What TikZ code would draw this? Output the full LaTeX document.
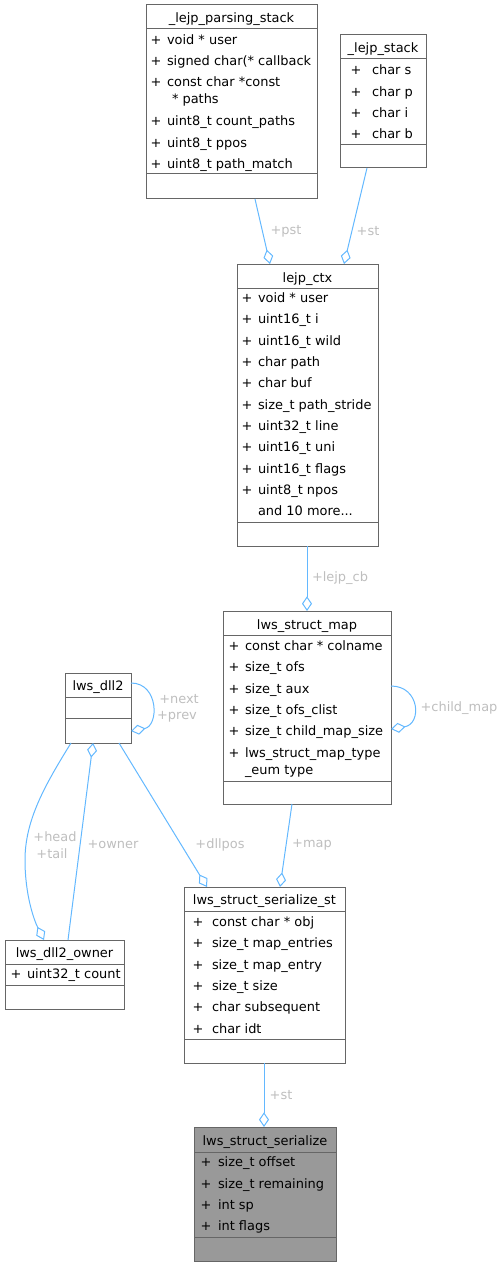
\documentclass[tikz,border=0pt]{standalone}
\usepackage{fontspec}
\setmainfont{DejaVu Sans}
\usetikzlibrary{fit,calc,arrows.meta}
\definecolor{boxc}{HTML}{666666}
\definecolor{edgec}{HTML}{63B8FF}
\definecolor{labc}{HTML}{BEBEBE}
\definecolor{mainfill}{HTML}{999999}
\tikzset{
  boxsty/.style={draw=boxc, line width=0.75pt, inner sep=0pt, outer sep=0pt, minimum size=0pt, rectangle},
  sepline/.style={draw=boxc, line width=0.75pt},
  txt/.style={inner sep=0pt, outer sep=0pt, text=black},
  lab/.style={inner sep=0pt, outer sep=0pt, text=labc},
  edge/.style={draw=edgec, line width=0.75pt, -{Diamond[open, length=11pt, width=7.5pt]}},
}
% #1 fill, #2 name, #3 left, #4 top, #5 right, #6 bottom, #7 title sep, #8 attr sep
\newcommand\ubox[8][white]{%
  \node[boxsty, fill=#1, fit={(#3,#4) (#5,#6)}] (#2) {};
  \draw[sepline] (#3,#7) -- (#5,#7);
  \draw[sepline] (#3,#8) -- (#5,#8);
}
% #1 name, #2 plus x, #3 text x, #4 baseline, #5 text
\newcommand\urow[5]{%
  \node[txt, anchor=base] (#1p) at (#2,#4) {+};
  \node[txt, anchor=base west] (#1) at (#3,#4) {#5};
}
\begin{document}
\begin{tikzpicture}[x=0.75pt, y=-0.75pt, font=\fontsize{9.7pt}{11.6pt}\selectfont]
\useasboundingbox (0,0) rectangle (503,1266);

% _lejp_parsing_stack
\ubox{lps}{146}{5}{317}{199}{29}{174}
\node[txt, anchor=base] (lpst) at (231.5,22.5) {\_lejp\_parsing\_stack};
\urow{lpsa}{156}{167}{44.5}{void * user}
\urow{lpsb}{156}{167}{66}{signed char(* callback}
\urow{lpsc}{156}{167}{87}{const char *const}
\node[txt, anchor=base west] (lpsc2) at (172,103.8) {* paths};
\urow{lpsd}{156}{167}{126}{uint8\_t count\_paths}
\urow{lpse}{156}{167}{147.3}{uint8\_t ppos}
\urow{lpsf}{156}{167}{168.6}{uint8\_t path\_match}

% _lejp_stack
\ubox{lst}{340}{35}{426}{168}{59}{145}
\node[txt, anchor=base] (lstt) at (383,53) {\_lejp\_stack};
\urow{lsta}{356}{372}{75}{char s}
\urow{lstb}{356}{372}{96.3}{char p}
\urow{lstc}{356}{372}{117.6}{char i}
\urow{lstd}{356}{372}{138.9}{char b}

% lejp_ctx
\ubox{ctx}{237}{264}{378}{546}{288}{522}
\node[txt, anchor=base] (ctxt) at (307.5,282) {lejp\_ctx};
\urow{ctxa}{247}{258}{302.5}{void * user}
\urow{ctxb}{247}{258}{323.8}{uint16\_t i}
\urow{ctxc}{247}{258}{345.2}{uint16\_t wild}
\urow{ctxd}{247}{258}{366.5}{char path}
\urow{ctxe}{247}{258}{387.8}{char buf}
\urow{ctxf}{247}{258}{409.2}{size\_t path\_stride}
\urow{ctxg}{247}{258}{430.5}{uint32\_t line}
\urow{ctxh}{247}{258}{451.8}{uint16\_t uni}
\urow{ctxi}{247}{258}{473.2}{uint16\_t flags}
\urow{ctxj}{247}{258}{494.5}{uint8\_t npos}
\node[txt, anchor=base west] (ctxk) at (258,515.8) {and 10 more...};

% lws_struct_map
\ubox{smap}{223}{611}{391}{804}{635}{781}
\node[txt, anchor=base] (smapt) at (307,629) {lws\_struct\_map};
\urow{smapa}{234}{245}{650.5}{const char * colname}
\urow{smapb}{234}{245}{671.8}{size\_t ofs}
\urow{smapc}{234}{245}{693.2}{size\_t aux}
\urow{smapd}{234}{245}{714.5}{size\_t ofs\_clist}
\urow{smape}{234}{245}{735.8}{size\_t child\_map\_size}
\urow{smapf}{234}{245}{757.2}{lws\_struct\_map\_type}
\node[txt, anchor=base west] (smapf2) at (245,774) {\_eum type};

% lws_dll2
\ubox{dll2}{65}{673}{131}{743}{697}{718}
\node[txt, anchor=base] (dll2t) at (98,690.5) {lws\_dll2};

% lws_dll2_owner
\ubox{own}{5}{940}{124}{1009}{964}{985}
\node[txt, anchor=base] (ownt) at (64.5,957.8) {lws\_dll2\_owner};
\urow{owna}{16}{27}{978.8}{uint32\_t count}

% lws_struct_serialize_st
\ubox{sst}{184}{887}{345}{1063}{911}{1039}
\node[txt, anchor=base] (sstt) at (264.5,904.5) {lws\_struct\_serialize\_st};
\urow{ssta}{198}{212}{926.5}{const char * obj}
\urow{sstb}{198}{212}{947.8}{size\_t map\_entries}
\urow{sstc}{198}{212}{969.2}{size\_t map\_entry}
\urow{sstd}{198}{212}{990.5}{size\_t size}
\urow{sste}{198}{212}{1011.8}{char subsequent}
\urow{sstf}{198}{212}{1033.2}{char idt}

% lws_struct_serialize
\ubox[mainfill]{ser}{194}{1127}{336}{1261}{1152}{1237}
\node[txt, anchor=base] (sert) at (265,1145) {lws\_struct\_serialize};
\urow{sera}{206}{218}{1166.8}{size\_t offset}
\urow{serb}{206}{218}{1188.2}{size\_t remaining}
\urow{serc}{206}{218}{1209.5}{int sp}
\urow{serd}{206}{218}{1230.8}{int flags}

% edges
\draw[edge] ($(lps.south west)+(109,0)$) -- ($(ctx.north west)+(33,0)$);
\node[lab] (lpst) at (286,231) {+pst};
\draw[edge] ($(lst.south west)+(27,0)$) -- ($(ctx.north west)+(107,0)$);
\node[lab] (lstl) at (368,231) {+st};
\draw[edge] ($(ctx.south west)+(70,0)$) -- ($(smap.north west)+(84,0)$);
\node[lab] (cbl) at (340,578) {+lejp\_cb};
\draw[edge] ($(smap.north east)+(0,75)$) .. controls (420,686) and (422,724) .. ($(smap.north east)+(0,118)$);
\node[lab] (cml) at (459,708) {+child\_map};
\draw[edge] ($(dll2.north east)+(0,10)$) .. controls (159,683) and (159,726) .. ($(dll2.north east)+(0,58)$);
\node[lab] (nxl) at (179,699) {+next};
\node[lab] (pvl) at (177,717) {+prev};
\draw[edge] ($(dll2.south west)+(6,0)$) .. controls (45,785) and (25,820) .. (25,860) .. controls (25,895) and (34,920) .. ($(own.north west)+(39,0)$);
\node[lab] (hdl) at (55,837) {+head};
\node[lab] (tll) at (52,854) {+tail};
\draw[edge] ($(own.north west)+(63,0)$) -- ($(dll2.south west)+(28,0)$);
\node[lab] (owl) at (113,845) {+owner};
\draw[edge] ($(dll2.south west)+(54,0)$) -- ($(sst.north west)+(23,0)$);
\node[lab] (dpl) at (220,845) {+dllpos};
\draw[edge] ($(smap.south west)+(69,0)$) -- ($(sst.north west)+(96,0)$);
\node[lab] (mpl) at (312,845) {+map};
\draw[edge] ($(sst.south west)+(80,0)$) -- ($(ser.north west)+(70,0)$);
\node[lab] (stl2) at (281,1095) {+st};
\end{tikzpicture}
\end{document}
